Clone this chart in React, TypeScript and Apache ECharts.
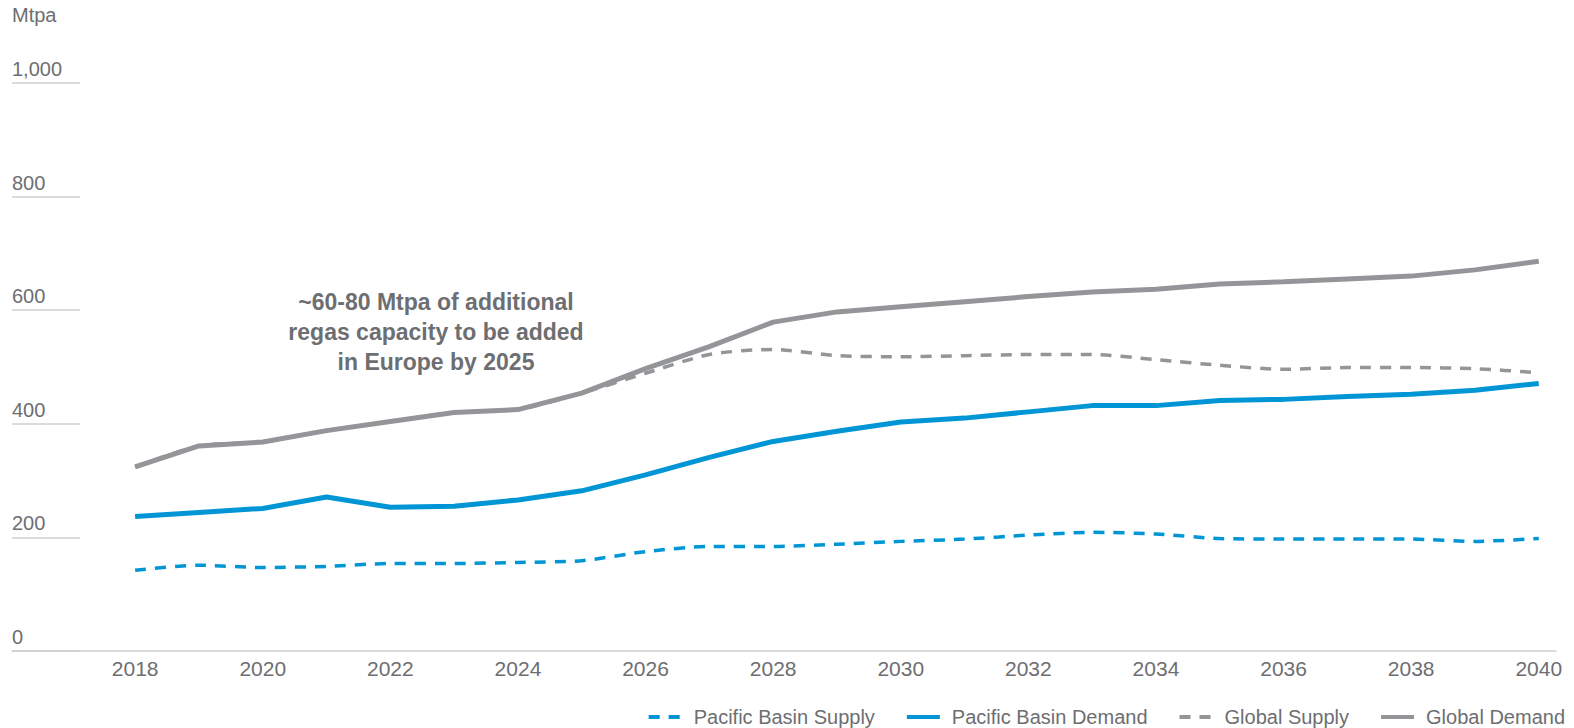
import React, { useEffect, useRef } from "react";
import * as echarts from "echarts";

const years = [2018, 2019, 2020, 2021, 2022, 2023, 2024, 2025, 2026, 2027, 2028, 2029, 2030, 2031, 2032, 2033, 2034, 2035, 2036, 2037, 2038, 2039, 2040];
const pacificSupply = [142, 151, 147, 149, 154, 154, 156, 159, 175, 184, 184, 188, 193, 197, 204, 209, 206, 198, 197, 197, 197, 193, 198];
const pacificDemand = [237, 244, 251, 271, 253, 255, 266, 282, 310, 341, 369, 387, 403, 410, 421, 432, 432, 441, 443, 448, 452, 459, 471];
const globalSupply = [324, 361, 368, 388, 404, 420, 425, 454, 489, 522, 531, 520, 518, 520, 522, 522, 513, 503, 496, 499, 499, 497, 490];
const globalDemand = [324, 361, 368, 388, 404, 420, 425, 454, 497, 536, 579, 597, 606, 615, 624, 632, 637, 646, 650, 655, 660, 671, 686];
const xTicks = [2018, 2020, 2022, 2024, 2026, 2028, 2030, 2032, 2034, 2036, 2038, 2040];
const yTicks = [0, 200, 400, 600, 800, 1000];
const annotation = "~60-80 Mtpa of additional\nregas capacity to be added\nin Europe by 2025";

const BLUE = "#0095d5";
const GRAY = "#949599";
const TEXT = "#6d6e71";
const FONT = "'Liberation Sans', Arial, sans-serif";

const pairs = (vals: number[]) => years.map((y, i) => [y, vals[i]]);

export default function App() {
  const ref = useRef<HTMLDivElement>(null);
  useEffect(() => {
    if (!ref.current) return;
    const chart = echarts.init(ref.current, undefined, { renderer: "svg" });
    const gridTop = 83;
    const gridHeight = 568;
    chart.setOption({
      animation: false,
      textStyle: { fontFamily: FONT },
      title: {
        text: "Mtpa",
        left: 7,
        top: 0,
        textStyle: { fontFamily: FONT, fontSize: 20, fontWeight: "normal", color: TEXT },
      },
      legend: {
        right: 4,
        top: 702,
        itemWidth: 33,
        itemHeight: 10,
        itemGap: 30,
        itemStyle: { opacity: 0 },
        lineStyle: { width: 4 },
        textStyle: { fontFamily: FONT, fontSize: 20, color: TEXT, padding: [0, 0, 0, 7] },
        data: ["Pacific Basin Supply", "Pacific Basin Demand", "Global Supply", "Global Demand"],
      },
      grid: [
        { left: 12, right: 18, top: gridTop, height: gridHeight },
        { left: 12, width: 68, top: gridTop, height: gridHeight },
      ],
      xAxis: [
        {
          type: "value",
          gridIndex: 0,
          min: 2016.07,
          max: 2040.27,
          axisLine: { show: true, lineStyle: { color: "#cfcfcf", width: 1.5 } },
          axisTick: { show: false },
          splitLine: { show: false },
          axisLabel: {
            customValues: xTicks,
            margin: 7,
            fontSize: 21,
            color: TEXT,
            fontFamily: FONT,
            formatter: (v: number) => String(v),
          },
        },
        { type: "value", gridIndex: 1, show: false, min: 0, max: 1 },
      ],
      yAxis: [
        {
          type: "value",
          gridIndex: 0,
          min: 0,
          max: 1000,
          axisLine: { show: false },
          axisTick: { show: false },
          axisLabel: { show: false },
          splitLine: { show: false },
        },
        {
          type: "value",
          gridIndex: 1,
          min: 0,
          max: 1000,
          axisLine: { show: false },
          axisTick: { show: false },
          splitLine: { show: true, lineStyle: { color: "#cfcfcf", width: 1.5 } },
          axisLabel: {
            customValues: yTicks,
            inside: true,
            margin: 0,
            align: "left",
            verticalAlign: "bottom",
            padding: [0, 0, 4, 0],
            fontSize: 20,
            color: TEXT,
            fontFamily: FONT,
            formatter: (v: number) => v.toLocaleString("en-US"),
          },
        },
      ],
      series: [
        {
          name: "Pacific Basin Supply",
          type: "line",
          data: pairs(pacificSupply),
          symbol: "none",
          smooth: 0.25,
          color: BLUE,
          lineStyle: { color: BLUE, width: 3.5, type: [11, 9] },
          z: 2,
        },
        {
          name: "Pacific Basin Demand",
          type: "line",
          data: pairs(pacificDemand),
          symbol: "none",
          color: BLUE,
          lineStyle: { color: BLUE, width: 5 },
          z: 3,
        },
        {
          name: "Global Supply",
          type: "line",
          data: pairs(globalSupply),
          symbol: "none",
          smooth: 0.25,
          color: GRAY,
          lineStyle: { color: GRAY, width: 3.5, type: [11, 9] },
          z: 2,
        },
        {
          name: "Global Demand",
          type: "line",
          data: pairs(globalDemand),
          symbol: "none",
          color: GRAY,
          lineStyle: { color: GRAY, width: 5 },
          z: 4,
        },
      ],
      graphic: [
        {
          type: "text",
          x: 436,
          y: 287,
          style: {
            text: annotation,
            fill: TEXT,
            font: `bold 23px ${FONT}`,
            lineHeight: 30,
            align: "center",
          },
        },
      ],
    });
    return () => chart.dispose();
  }, []);
  return (
    <div
      ref={ref}
      style={{ position: "fixed", left: 0, top: 0, width: 1574, height: 728, background: "#fff" }}
    />
  );
}
